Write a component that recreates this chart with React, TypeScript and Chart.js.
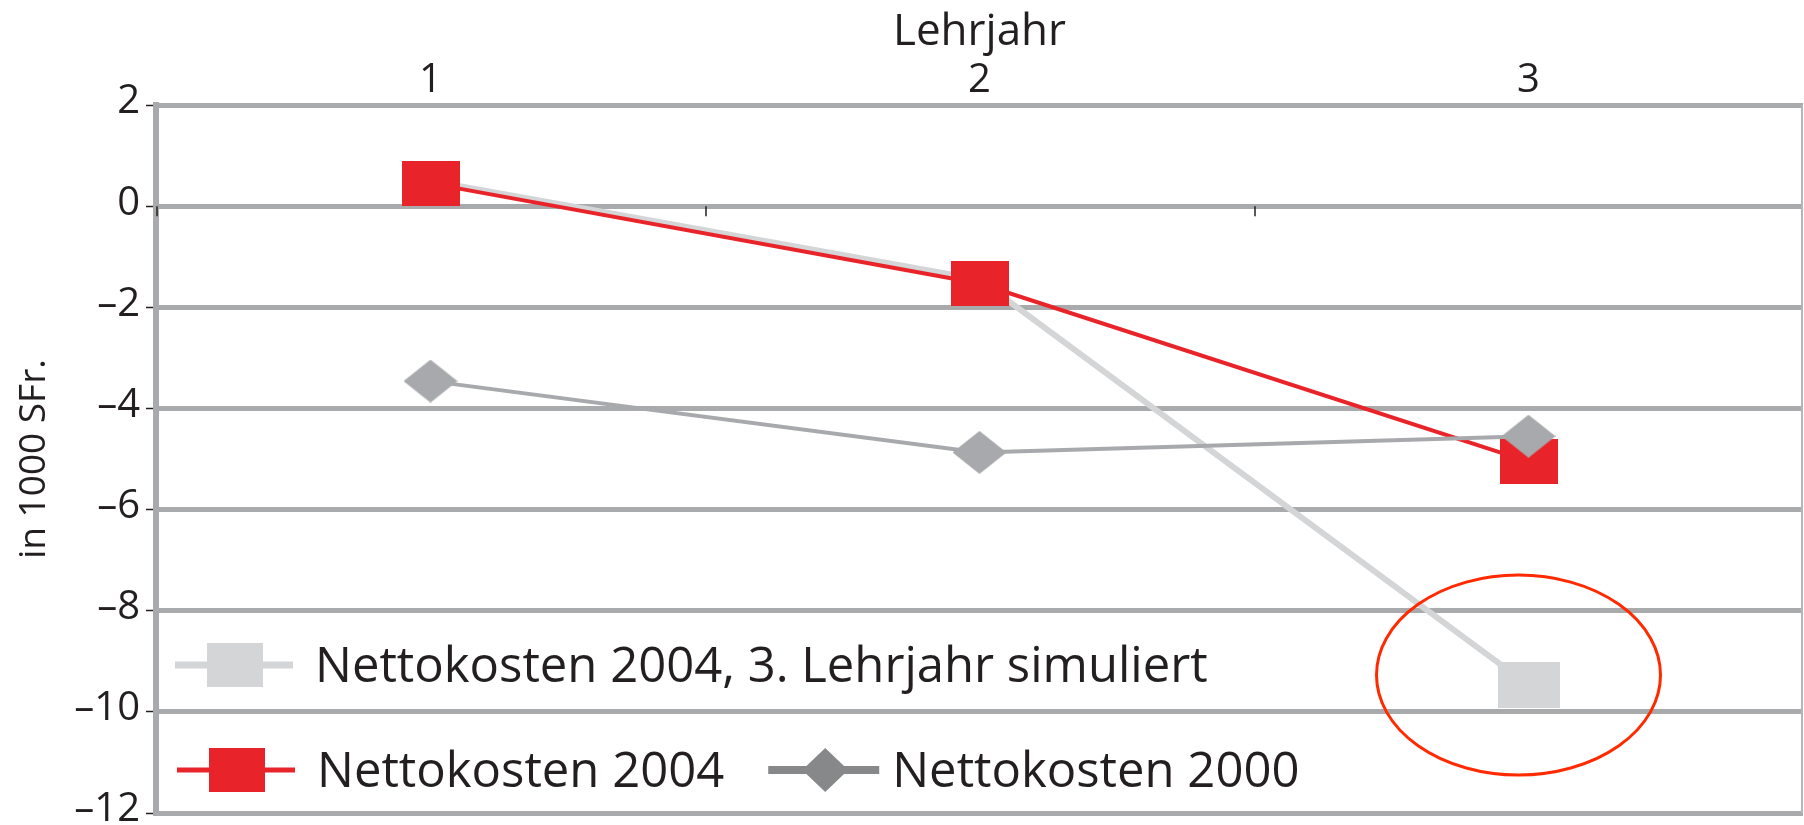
import React, { useEffect, useRef } from 'react';
import { Chart, registerables } from 'chart.js';

Chart.register(...registerables);

// ---- data ----
const categories = ['1', '2', '3'];
const nettokosten2000 = [-3.46, -4.87, -4.55];
const nettokosten2004 = [0.45, -1.53, -5.05];
const nettokosten2004Sim = [0.5, -1.45, -9.47];
const seriesLabels = [
  'Nettokosten 2000',
  'Nettokosten 2004',
  'Nettokosten 2004, 3. Lehrjahr simuliert',
];
const yMin = -12;
const yMax = 2;
const yStep = 2;
const xTitle = 'Lehrjahr';
const yTitle = 'in 1000 SFr.';

// ---- style ----
const W = 1804;
const H = 825;
const FONT = '"Open Sans", "Noto Sans", sans-serif';
const TEXT = '#231f20';
const GRID = '#a9aaac';
const RED = '#e8242a';
const GRAY = '#a7a9ac';
const LIGHT = '#d4d5d7';
const LEGEND_DIAMOND = '#87888a';

function makeRect(w: number, h: number, color: string) {
  const c = document.createElement('canvas');
  c.width = w;
  c.height = h;
  const g = c.getContext('2d')!;
  g.fillStyle = color;
  g.fillRect(0, 0, w, h);
  return c;
}

function makeDiamond(w: number, h: number, color: string) {
  const c = document.createElement('canvas');
  c.width = w;
  c.height = h;
  const g = c.getContext('2d')!;
  g.fillStyle = color;
  g.beginPath();
  g.moveTo(w / 2, 0);
  g.lineTo(w, h / 2);
  g.lineTo(w / 2, h);
  g.lineTo(0, h / 2);
  g.closePath();
  g.fill();
  return c;
}

const fmt = (v: number | string) => {
  const n = Number(v);
  return n < 0 ? '\u2013' + Math.abs(n) : String(n);
};

const decorPlugin = {
  id: 'decor',
  beforeDatasetsDraw(chart: any) {
    const { ctx, chartArea: ca, scales } = chart;
    ctx.save();
    // thin right border
    ctx.strokeStyle = '#b5b6b8';
    ctx.lineWidth = 2;
    ctx.beginPath();
    ctx.moveTo(ca.right - 1, ca.top);
    ctx.lineTo(ca.right - 1, ca.bottom);
    ctx.stroke();
    // category boundary ticks on the zero line
    const y0 = scales.y.getPixelForValue(0);
    ctx.strokeStyle = TEXT;
    ctx.lineWidth = 1.5;
    for (let i = 0; i < categories.length; i++) {
      const x = scales.x.getPixelForValue(i - 0.5);
      ctx.beginPath();
      ctx.moveTo(x + 1, y0);
      ctx.lineTo(x + 1, y0 + 10);
      ctx.stroke();
    }
    ctx.restore();
  },
  afterDatasetsDraw(chart: any) {
    const { ctx } = chart;
    const pt = chart.getDatasetMeta(2).data[2];
    if (pt) {
      ctx.save();
      ctx.strokeStyle = '#ff2a00';
      ctx.lineWidth = 3;
      ctx.beginPath();
      ctx.ellipse(pt.x - 10, pt.y - 10, 142, 100, 0, 0, Math.PI * 2);
      ctx.stroke();
      ctx.restore();
    }
  },
  afterDraw(chart: any) {
    const { ctx, chartArea: ca } = chart;
    const ds = chart.data.datasets;
    ctx.save();
    ctx.font = `49px ${FONT}`;
    ctx.fillStyle = TEXT;
    ctx.textBaseline = 'alphabetic';
    ctx.textAlign = 'left';
    const cap = 17;

    const drawItem = (x: number, y: number, kind: string, color: string, lw: number, label: string) => {
      ctx.strokeStyle = color;
      ctx.lineWidth = lw;
      ctx.beginPath();
      ctx.moveTo(x, y);
      ctx.lineTo(x + (kind === 'diamond' ? 111 : 118), y);
      ctx.stroke();
      ctx.fillStyle = color;
      if (kind === 'diamond') {
        const cx = x + 57;
        ctx.beginPath();
        ctx.moveTo(cx, y - 22);
        ctx.lineTo(cx + 23, y);
        ctx.lineTo(cx, y + 22);
        ctx.lineTo(cx - 23, y);
        ctx.closePath();
        ctx.fill();
        ctx.fillStyle = TEXT;
        ctx.fillText(label, x + 124, y + cap);
        return x + 124 + ctx.measureText(label).width;
      }
      ctx.fillRect(x + 32, y - 22, 56, 44);
      ctx.fillStyle = TEXT;
      ctx.fillText(label, x + 140, y + cap);
      return x + 140 + ctx.measureText(label).width;
    };

    const row1 = ca.bottom - 148;
    const row2 = ca.bottom - 43;
    drawItem(ca.left + 19, row1, 'rect', LIGHT, 7, ds[2].label);
    const end = drawItem(ca.left + 21, row2, 'rect', RED, 5, ds[1].label);
    drawItem(end + 44, row2, 'diamond', LEGEND_DIAMOND, 8, ds[0].label);
    ctx.restore();
  },
};

export default function App() {
  const ref = useRef<HTMLCanvasElement>(null);

  useEffect(() => {
    if (!ref.current) return;
    const diamond = makeDiamond(54, 43, GRAY);
    const redSq = makeRect(58, 45, RED);
    const lightSq = makeRect(62, 46, LIGHT);

    const chart = new Chart(ref.current, {
      type: 'line',
      data: {
        labels: categories,
        datasets: [
          {
            label: seriesLabels[0],
            data: nettokosten2000,
            borderColor: GRAY,
            backgroundColor: GRAY,
            borderWidth: 4,
            pointStyle: diamond as any,
            pointRadius: 25,
            tension: 0,
          },
          {
            label: seriesLabels[1],
            data: nettokosten2004,
            borderColor: RED,
            backgroundColor: RED,
            borderWidth: 4,
            pointStyle: redSq as any,
            pointRadius: 25,
            tension: 0,
          },
          {
            label: seriesLabels[2],
            data: nettokosten2004Sim,
            borderColor: LIGHT,
            backgroundColor: LIGHT,
            borderWidth: 6,
            pointStyle: lightSq as any,
            pointRadius: [0, 0, 25],
            tension: 0,
          },
        ],
      },
      options: {
        animation: false,
        responsive: false,
        devicePixelRatio: 1,
        events: [],
        layout: { autoPadding: false, padding: { top: 0, right: 1, bottom: 12, left: 0 } },
        plugins: {
          legend: { display: false },
          tooltip: { enabled: false },
        },
        scales: {
          x: {
            type: 'category',
            position: 'top',
            offset: true,
            grid: { display: false, drawTicks: false },
            border: { display: false },
            ticks: {
              font: { family: FONT, size: 40 },
              color: TEXT,
              padding: 0,
            },
            title: {
              display: true,
              text: xTitle,
              font: { family: FONT, size: 44 },
              color: TEXT,
              padding: { top: 6, bottom: 0 },
            },
            afterFit: (s: any) => {
              s.height = 105;
              s.paddingLeft = 0;
              s.paddingRight = 0;
            },
          },
          y: {
            min: yMin,
            max: yMax,
            ticks: {
              stepSize: yStep,
              font: { family: FONT, size: 40 },
              color: TEXT,
              padding: 6,
              labelOffset: -3,
              callback: (v: any) => fmt(v),
            },
            grid: {
              color: GRID,
              lineWidth: 5,
              tickColor: TEXT,
              tickWidth: 1.5,
              tickLength: 10,
            },
            border: { color: GRID, width: 6 },
            title: {
              display: true,
              text: yTitle,
              font: { family: FONT, size: 37 },
              color: TEXT,
              padding: { top: 12, bottom: 0 },
            },
            afterFit: (s: any) => {
              s.width = 156;
              s.paddingTop = 0;
              s.paddingBottom = 0;
            },
          },
        },
      },
      plugins: [decorPlugin],
    });
    return () => chart.destroy();
  }, []);

  return (
    <div style={{ position: 'fixed', left: 0, top: 0, width: W, height: H, background: '#fff' }}>
      <canvas ref={ref} width={W} height={H} style={{ display: 'block', width: W, height: H }} />
    </div>
  );
}
